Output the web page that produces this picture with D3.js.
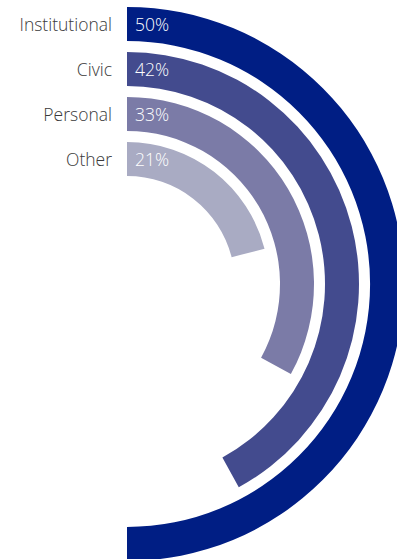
<!DOCTYPE html>
<html>
<head>
<meta charset="utf-8">
<script src="https://cdn.jsdelivr.net/npm/d3@7"></script>
<style>
  html, body { margin: 0; padding: 0; background: #ffffff; }
  svg { display: block; }
</style>
</head>
<body>
<div id="chart"></div>
<script>
// Share of responses by category (percent of a full circle)
const categories = ["Institutional", "Civic", "Personal", "Other"];
const values = [50, 42, 33, 21];
const colors = ["#001e84", "#434b8e", "#7b7ba7", "#a9abc3"];

const width = 397, height = 559;
const cx = 127, cy = 284;
const outerR = 277, bandW = 34, step = 45;

const svg = d3.select("#chart").append("svg")
  .attr("width", width)
  .attr("height", height);

const g = svg.append("g").attr("transform", `translate(${cx},${cy})`);

// percent -> angle, clockwise from 12 o'clock
const angle = d3.scaleLinear().domain([0, 100]).range([0, 2 * Math.PI]);

// ring index -> outer radius
const radius = d3.scaleLinear().domain([0, 1]).range([outerR, outerR - step]);

const arc = d3.arc()
  .innerRadius((d, i) => radius(i) - bandW)
  .outerRadius((d, i) => radius(i))
  .startAngle(0)
  .endAngle(d => angle(d));

g.selectAll("path.ring")
  .data(values)
  .join("path")
  .attr("class", "ring")
  .attr("d", (d, i) => arc(d, i))
  .attr("fill", (d, i) => colors[i]);

// category names, right-aligned left of the ring starts
g.selectAll("text.cat")
  .data(categories)
  .join("text")
  .attr("class", "cat")
  .attr("x", -15)
  .attr("y", (d, i) => -(radius(i) - bandW / 2) + 7)
  .attr("text-anchor", "end")
  .attr("font-family", "'Open Sans', sans-serif")
  .attr("font-weight", 300)
  .attr("font-size", 17.5)
  .attr("fill", "#3a3a3a")
  .text(d => d);

// value labels inside the start of each ring
g.selectAll("text.val")
  .data(values)
  .join("text")
  .attr("class", "val")
  .attr("x", 8)
  .attr("y", (d, i) => -(radius(i) - bandW / 2) + 7)
  .attr("text-anchor", "start")
  .attr("font-family", "'Open Sans', sans-serif")
  .attr("font-weight", 300)
  .attr("font-size", 17.5)
  .attr("fill", "#ffffff")
  .text(d => d + "%");
</script>
</body>
</html>
